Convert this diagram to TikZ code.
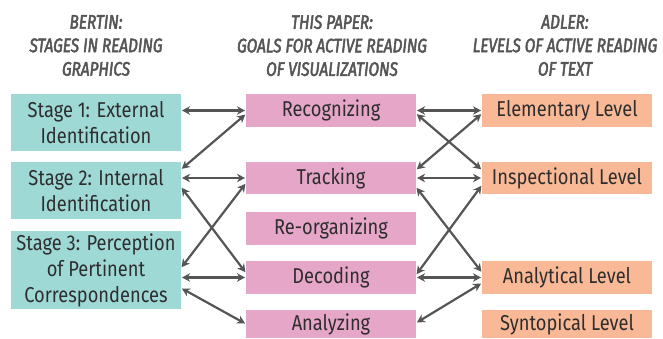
\documentclass[tikz,border=0pt]{standalone}
\usepackage{fontspec}
\usetikzlibrary{arrows.meta,calc}
\newfontfamily\boxfont[FakeStretch=0.85]{Fira Sans}
\newfontfamily\hdrfont[FakeStretch=0.79,FakeBold=2.5]{Fira Sans}
\definecolor{tealbox}{HTML}{9FD9D6}
\definecolor{pinkbox}{HTML}{E6A6C8}
\definecolor{orangebox}{HTML}{F9B996}
\definecolor{txtgray}{HTML}{2E2E2E}
\definecolor{hdrgray}{HTML}{555555}
\definecolor{arrgray}{HTML}{555555}
\tikzset{
  basebox/.style={minimum width=170pt, inner sep=0pt, outer sep=0pt, align=center,
    text=txtgray, font={\boxfont\fontsize{21.5}{26}\selectfont}},
  tealnode/.style={basebox, fill=tealbox},
  pinknode/.style={basebox, fill=pinkbox},
  orangenode/.style={basebox, fill=orangebox},
  hdr/.style={anchor=north, inner sep=0pt, align=center, text=hdrgray,
    font={\hdrfont\itshape\fontsize{19.5}{23.5}\selectfont}},
  arr/.style={draw=arrgray, line width=2.2pt,
    {Stealth[length=8pt,width=8.5pt,inset=2.5pt]}-{Stealth[length=8pt,width=8.5pt,inset=2.5pt]},
    shorten >=1pt, shorten <=1pt}
}
\begin{document}
\begin{tikzpicture}[x=1pt,y=1pt]
\useasboundingbox (0,0) rectangle (663,-339);
% headers
\node[hdr] (h1) at (96,-15) {BERTIN:\\STAGES IN READING\\GRAPHICS};
\node[hdr] (h2) at (332,-15) {THIS PAPER:\\GOALS FOR ACTIVE READING\\OF VISUALIZATIONS};
\node[hdr] (h3) at (565,-15) {ADLER:\\LEVELS OF ACTIVE READING\\OF TEXT};
% left column
\node[tealnode, minimum height=57pt] (s1) at (96,-122.5) {Stage 1: External\\Identification};
\node[tealnode, minimum height=57pt] (s2) at (96,-190.5) {Stage 2: Internal\\Identification};
\node[tealnode, minimum height=78pt] (s3) at (96,-270) {Stage 3: Perception\\of Pertinent\\Correspondences};
% middle column
\node[pinknode, minimum height=33pt] (rec) at (331,-110.5) {Recognizing};
\node[pinknode, minimum height=32pt] (trk) at (331,-178) {Tracking};
\node[pinknode, minimum height=33pt] (reo) at (331,-228.5) {Re-organizing};
\node[pinknode, minimum height=33pt] (dec) at (331,-277.5) {Decoding};
\node[pinknode, minimum height=28pt] (ana) at (331,-324) {Analyzing};
% right column
\node[orangenode, minimum height=33pt] (ele) at (567,-110.5) {Elementary Level};
\node[orangenode, minimum height=32pt] (ins) at (567,-178) {Inspectional Level};
\node[orangenode, minimum height=33pt] (alv) at (567,-277.5) {Analytical Level};
\node[orangenode, minimum height=28pt] (syn) at (567,-324) {Syntopical Level};
% left-middle connectors
\draw[arr] (s1.east |- rec.west) -- (rec.west);
\draw[arr] ([yshift=-3.5pt]rec.west) -- ([yshift=-7.5pt]s2.north east);
\draw[arr] (s2.east |- trk.west) -- (trk.west);
\draw[arr] ([yshift=3.5pt]s2.east) -- ([yshift=4.5pt]dec.west);
\draw[arr] ([yshift=-5pt]trk.west) -- ([yshift=2pt]s3.east);
\draw[arr] (s3.east |- dec.west) -- (dec.west);
\draw[arr] ([yshift=-18pt]s3.east) -- (ana.west);
% middle-right connectors
\draw[arr] (rec.east) -- (ele.west);
\draw[arr] ([yshift=-3pt]rec.east) -- ([yshift=8pt]ins.west);
\draw[arr] ([yshift=8pt]trk.east) -- ([yshift=-3pt]ele.west);
\draw[arr] (trk.east) -- (ins.west);
\draw[arr] ([yshift=-9pt]trk.east) -- ([yshift=5pt]alv.west);
\draw[arr] ([yshift=2.5pt]dec.east) -- ([yshift=-7pt]ins.west);
\draw[arr] (dec.east) -- (alv.west);
\draw[arr] ([yshift=1pt]ana.east) -- ([yshift=-5.5pt]alv.west);
\end{tikzpicture}
\end{document}
